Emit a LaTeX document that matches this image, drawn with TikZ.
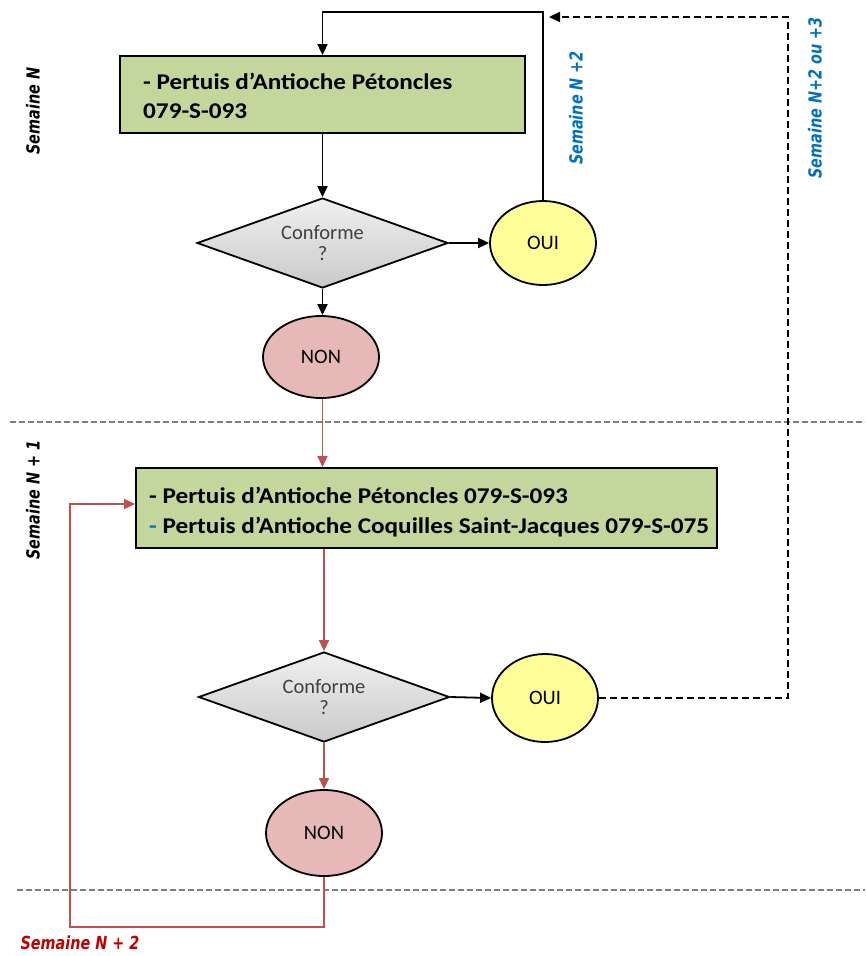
\documentclass[tikz,border=0pt]{standalone}
\usepackage{fontspec}
\setmainfont{Carlito}
\newfontfamily\boxfont[FakeStretch=1.12]{Carlito}
\newfontfamily\lab[FakeStretch=0.8]{DejaVu Sans}
\usetikzlibrary{shapes.geometric,arrows.meta,calc}
\definecolor{boxgreen}{HTML}{C3D69B}
\definecolor{ouiyel}{HTML}{FFFF99}
\definecolor{nonpink}{HTML}{E6B9B8}
\definecolor{linered}{HTML}{C0504D}
\definecolor{txtred}{HTML}{C00000}
\definecolor{txtblue}{HTML}{0070C0}
\definecolor{sepgray}{HTML}{808080}
\tikzset{
  tri/.style={-{Triangle[length=11pt,width=10pt]}},
  blkline/.style={draw=black,line width=1.8pt},
  redline/.style={draw=linered,line width=1.5pt},
  greenbox/.style={draw=black,line width=1.8pt,fill=boxgreen,rectangle,inner sep=0pt,anchor=center},
  boxtext/.style={font=\boxfont\bfseries\fontsize{22.5}{27}\selectfont,anchor=base west,inner sep=0pt},
  decision/.style={diamond,draw=black,line width=1.8pt,top color=gray!12,bottom color=gray!42,shape aspect=2.8,minimum width=251pt,minimum height=90pt,inner sep=0pt,font=\fontsize{20.5}{21}\selectfont,text=black!75,align=center},
  ouinode/.style={ellipse,draw=black,line width=1.8pt,fill=ouiyel,minimum width=106pt,minimum height=84pt,inner sep=0pt,font=\fontsize{20.5}{24}\selectfont},
  nonnode/.style={ellipse,draw=black,line width=1.8pt,fill=nonpink,minimum width=116pt,minimum height=82pt,inner sep=0pt,font=\fontsize{20.5}{24}\selectfont},
  sep/.style={draw=sepgray,line width=1.5pt,dash pattern=on 6pt off 3pt},
  weeklabel/.style={font=\lab\bfseries\itshape\fontsize{18}{20}\selectfont}
}
\begin{document}
\begin{tikzpicture}[x=1pt,y=-1pt]
\useasboundingbox (0,0) rectangle (865,956);
% separators
\draw[sep] (10,422) -- (865,422);
\draw[sep] (17,890) -- (865,890);
% boxes
\node[greenbox,minimum width=405pt,minimum height=77pt] (box1) at (322.5,94.5) {};
\node[boxtext] (box1a) at (143,89) {- Pertuis d’Antioche Pétoncles};
\node[boxtext] (box1b) at (143,118) {079-S-093};
\node[greenbox,minimum width=581pt,minimum height=80pt] (box2) at (426.5,508) {};
\node[boxtext] (box2a) at (149,503) {- Pertuis d’Antioche Pétoncles 079-S-093};
\node[boxtext] (box2b) at (149,533) {{\color{txtblue}-} Pertuis d’Antioche Coquilles Saint-Jacques 079-S-075};
% decisions and answers
\node[decision] (dec1) at (322.5,243) {Conforme\\?};
\node[ouinode] (oui1) at (543,243) {OUI};
\node[nonnode] (non1) at (321,357) {NON};
\node[decision] (dec2) at (324,697) {Conforme\\?};
\node[ouinode,minimum height=88pt] (oui2) at (545,698) {OUI};
\node[nonnode,minimum height=86pt] (non2) at (324,833) {NON};
% labels
\node[weeklabel,rotate=90] (lN) at (33,111) {Semaine N};
\node[weeklabel,rotate=90] (lN1) at (33,500) {Semaine N + 1};
\node[weeklabel,text=txtred] (lN2) at (80,943) {Semaine N + 2};
\node[weeklabel,text=txtblue,rotate=90] (lB1) at (576,108) {Semaine N +2};
\node[weeklabel,text=txtblue,rotate=90] (lB2) at (815,98) {Semaine N+2 ou +3};
% coordinates
\coordinate (t1) at (430,12);
\coordinate (t2) at (788,17);
\coordinate (dashend) at (549,17);
\coordinate (t4) at (70,927);
% connectors black
\draw[blkline,tri] (oui1.north) |- (t1) -| (box1.north);
\draw[blkline,tri] (box1.south) -- (dec1.north);
\draw[blkline,tri] (dec1.east) -- (oui1.west);
\draw[blkline,tri] (dec1.south) -- (dec1.south |- non1.north);
\draw[blkline,tri] (dec2.east) -- (oui2.west);
\draw[draw=black,line width=1.8pt,dash pattern=on 7pt off 4pt,tri] (oui2.east) -| (t2) -- (dashend);
% connectors red
\draw[redline,tri] (non1.south -| box1.south) -- (box2.north -| box1.south);
\draw[redline,tri] (box2.south -| dec2.north) -- (dec2.north);
\draw[redline,tri] (dec2.south) -- (non2.north);
\draw[redline,tri] (non2.south) |- (t4) |- ($(box2.west)+(0,-4)$);
\end{tikzpicture}
\end{document}
